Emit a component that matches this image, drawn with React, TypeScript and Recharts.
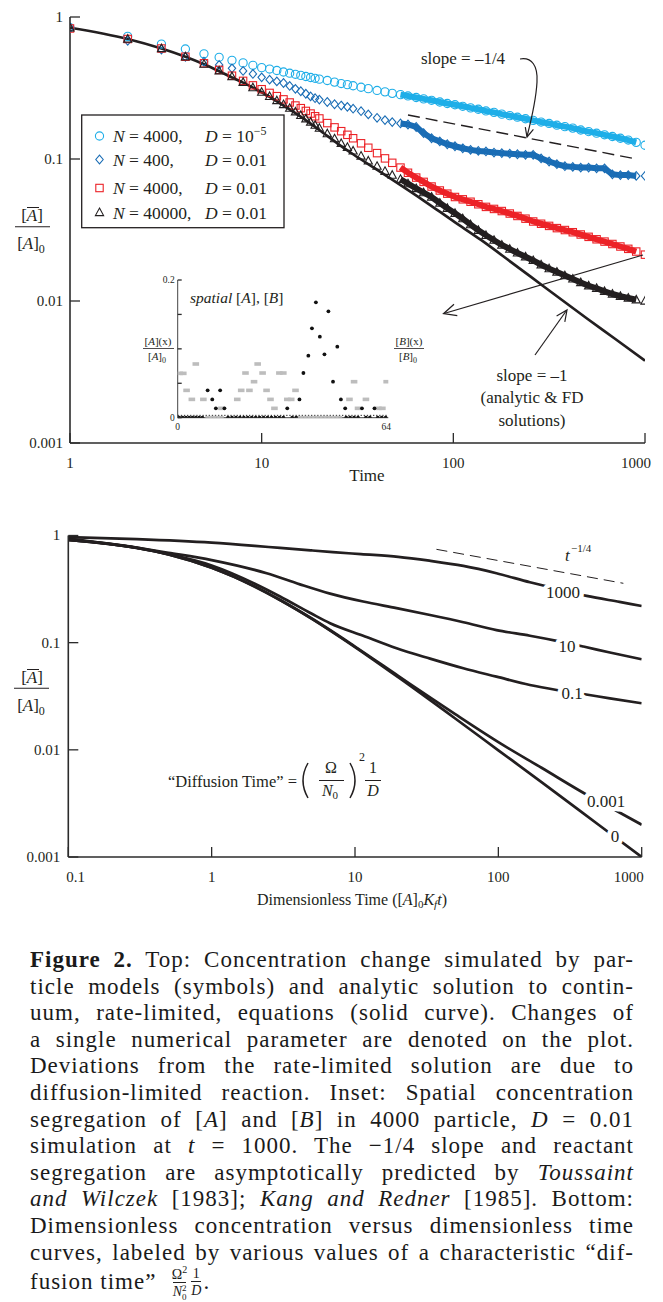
import React from "react";
import {
  ComposedChart,
  ScatterChart,
  Line,
  Scatter,
  XAxis,
  YAxis,
  ReferenceLine,
} from "recharts";

const SERIF = '"Liberation Serif", "Times New Roman", serif';
const INK = "#231f20";
const AXIS = "#2b2b2b";

// ---------- top panel: particle models vs analytic solution ----------
const SIM_T = [
  1, 2, 3, 4, 5, 6, 7, 8, 9, 10, 11, 12, 13, 14, 15, 16, 17, 18, 19, 20,
  22, 24, 26, 28, 30, 33, 36, 40, 44, 48, 53, 58, 64, 70, 77, 85, 93, 102, 112, 123,
  135, 148, 163, 179, 197, 216, 238, 261, 287, 316, 347, 382, 420, 462, 508, 559, 615, 676, 744, 818,
  900, 1000,
];
// N = 4000, D = 1e-5 (circles)
const SIM_N4000_D1E5 = [
  0.84, 0.73, 0.645, 0.595, 0.55, 0.52, 0.495, 0.475, 0.457, 0.44,
  0.43, 0.42, 0.41, 0.402, 0.395, 0.388, 0.381, 0.375, 0.37, 0.365,
  0.357, 0.348, 0.34, 0.334, 0.328, 0.32, 0.313, 0.304, 0.297, 0.29,
  0.284, 0.278, 0.271, 0.265, 0.259, 0.252, 0.246, 0.241, 0.235, 0.229,
  0.224, 0.218, 0.213, 0.207, 0.202, 0.197, 0.192, 0.187, 0.182, 0.178,
  0.173, 0.169, 0.165, 0.16, 0.156, 0.152, 0.148, 0.144, 0.14, 0.136,
  0.131, 0.125,
];
// N = 400, D = 0.01 (diamonds)
const SIM_N400_D001 = [
  0.84, 0.68, 0.59, 0.525, 0.484, 0.46, 0.435, 0.417, 0.397, 0.376,
  0.362, 0.352, 0.343, 0.327, 0.312, 0.3, 0.288, 0.276, 0.268, 0.262,
  0.252, 0.243, 0.238, 0.233, 0.226, 0.217, 0.206, 0.195, 0.188, 0.182,
  0.178, 0.175, 0.168, 0.152, 0.14, 0.133, 0.127, 0.123, 0.119, 0.116,
  0.114, 0.113, 0.111, 0.11, 0.109, 0.108, 0.107, 0.107, 0.101, 0.096,
  0.092, 0.089, 0.088, 0.087, 0.087, 0.086, 0.086, 0.078, 0.077, 0.077,
  0.076, 0.076,
];
// N = 4000, D = 0.01 (squares)
const SIM_N4000_D001 = [
  0.83, 0.7, 0.6, 0.525, 0.472, 0.424, 0.386, 0.355, 0.33, 0.31,
  0.292, 0.277, 0.263, 0.25, 0.238, 0.228, 0.218, 0.209, 0.2, 0.193,
  0.179, 0.167, 0.157, 0.148, 0.14, 0.129, 0.12, 0.11, 0.101, 0.094,
  0.087, 0.08, 0.074, 0.069, 0.064, 0.06, 0.057, 0.054, 0.052, 0.05,
  0.048, 0.046, 0.0445, 0.043, 0.0413, 0.0397, 0.038, 0.0363, 0.035, 0.0338,
  0.0326, 0.0316, 0.0305, 0.0294, 0.0283, 0.0272, 0.0262, 0.0252, 0.0242, 0.0233,
  0.0223, 0.0212,
];
// N = 40000, D = 0.01 (triangles)
const SIM_N40000_D001 = [
  0.84, 0.7, 0.6, 0.525, 0.465, 0.418, 0.38, 0.347, 0.318, 0.296,
  0.276, 0.258, 0.242, 0.228, 0.215, 0.203, 0.192, 0.182, 0.173, 0.165,
  0.151, 0.139, 0.129, 0.121, 0.114, 0.105, 0.097, 0.089, 0.082, 0.077,
  0.072, 0.067, 0.062, 0.058, 0.054, 0.049, 0.045, 0.0415, 0.038, 0.0345,
  0.0315, 0.029, 0.0268, 0.0248, 0.0232, 0.0218, 0.0205, 0.0193, 0.018, 0.0169,
  0.016, 0.0151, 0.0143, 0.0135, 0.0128, 0.0123, 0.0117, 0.0112, 0.0108, 0.0105,
  0.0102, 0.01,
];
const ANALYTIC_T = [1, 2, 3, 4, 5, 6, 7, 8, 10, 12, 15, 20, 25, 30, 40, 50, 70, 100, 140, 200, 300, 500, 700, 1000];
const ANALYTIC_A = [
  0.84, 0.7, 0.6, 0.525, 0.465, 0.415, 0.375, 0.345, 0.295, 0.255, 0.21, 0.16,
  0.128, 0.108, 0.084, 0.069, 0.051, 0.0365, 0.0268, 0.0188, 0.0125, 0.0075, 0.0054, 0.0038,
];
const TOP_X_TICKS = [1, 10, 100, 1000];
const TOP_Y_TICKS = [0.001, 0.01, 0.1, 1];
const QUARTER_SLOPE_T = [58, 870];
const QUARTER_SLOPE_A = [0.204, 0.101];

// ---------- inset: spatial [A], [B] ----------
const INSET_A_X = [9.1, 10.5, 11.6, 12.9, 14.2, 33.3, 37, 38.2, 39.7, 40.8, 42, 43.2, 44.6, 45.8, 47.2, 48.5, 49.6, 50.9, 56, 59.8];
const INSET_A_Y = [0.0397, 0.0266, 0.0136, 0.0397, 0.0136, 0.0136, 0.0266, 0.0649, 0.0901, 0.1298, 0.1676, 0.1177, 0.092, 0.1545, 0.0523, 0.1031, 0.0266, 0.0136, 0.0136, 0.0136];
const INSET_A_ZERO_X = [0.5, 1.5, 2.5, 3.5, 4.5, 5.5, 6.5, 7.5, 15.3, 16.5, 17.7, 18.9, 20.1, 21.3, 22.5, 23.7, 24.9, 26.1, 27.3, 28.5, 29.7, 30.9, 32.1, 34.8, 36, 51.2, 52.4, 53.6, 54.8, 57.2, 58.4, 60.8, 62, 63.2];
const INSET_B_X = [0.6, 1.7, 2.7, 4.3, 5.5, 7.8, 13.3, 18.1, 19.3, 20.6, 21.8, 23.2, 24.3, 25.8, 27, 28.2, 29.4, 30.9, 32.1, 33.3, 34.5, 35.8, 52.2, 53.6, 54.8, 57.2, 61, 62.2, 63.5];
const INSET_B_Y = [0.0644, 0.0644, 0.0397, 0.0266, 0.078, 0.0266, 0.0136, 0.0266, 0.0397, 0.0649, 0.0397, 0.0523, 0.078, 0.0649, 0.0397, 0.0266, 0.0136, 0.0649, 0.0649, 0.0266, 0.0266, 0.0397, 0.0266, 0.0523, 0.0136, 0.0266, 0.0136, 0.0136, 0.0523];
const INSET_B_ZERO_X = [9.4, 10.6, 11.8, 13, 37, 38.2, 39.4, 40.6, 41.8, 43, 44.2, 45.4, 46.6, 47.8, 49];
const INSET_MEAN = 0.0034;

// ---------- bottom panel: dimensionless curves ----------
const DT1000_T = [0.1, 0.3, 1, 2, 3, 5, 7, 11, 20, 33, 57, 97, 166, 250, 413, 700, 1000];
const DT1000_A = [0.965, 0.925, 0.857, 0.8, 0.765, 0.725, 0.7, 0.67, 0.633, 0.582, 0.52, 0.444, 0.366, 0.32, 0.273, 0.24, 0.22];
const DT10_T = [0.1, 0.3, 0.5, 1, 2.42, 4.13, 6.7, 11.4, 19.5, 33.4, 57, 97, 166, 255, 392, 600, 1000];
const DT10_A = [0.935, 0.77, 0.69, 0.59, 0.444, 0.35, 0.287, 0.242, 0.21, 0.181, 0.155, 0.131, 0.116, 0.104, 0.092, 0.081, 0.07];
const DT01_T = [0.1, 0.3, 0.5, 1, 2, 3, 5, 6.7, 11.4, 19.5, 33.4, 57, 97, 166, 255, 400, 600, 1000];
const DT01_A = [0.91, 0.765, 0.67, 0.525, 0.355, 0.27, 0.186, 0.152, 0.116, 0.0887, 0.071, 0.0577, 0.0482, 0.0403, 0.0362, 0.033, 0.0302, 0.0272];
const DT0001_T = [0.1, 0.3, 0.5, 1, 2, 3, 5, 10, 20, 35, 50, 100, 200, 436, 700, 1000];
const DT0001_A = [0.91, 0.765, 0.665, 0.5, 0.335, 0.25, 0.168, 0.092, 0.049, 0.0295, 0.0215, 0.0118, 0.0068, 0.00366, 0.0026, 0.002];
const DT0_T = [0.1, 0.3, 0.5, 1, 2, 3, 5, 10, 20, 50, 100, 200, 500, 1000];
const DT0_A = [0.91, 0.77, 0.667, 0.5, 0.333, 0.25, 0.167, 0.091, 0.0476, 0.0196, 0.0099, 0.005, 0.002, 0.001];
const BOT_X_TICKS = [0.1, 1, 10, 100, 1000];
const BOT_Y_TICKS = [0.001, 0.01, 0.1, 1];
const QUARTER_GUIDE_T = [37, 745];
const QUARTER_GUIDE_A = [0.743, 0.358];

const rows = (ts: number[], vs: number[]) => ts.map((t, i) => ({ t, v: vs[i] }));

const SERIES = [
  { id: "c", kind: "circle", color: "#1eaee8", values: SIM_N4000_D1E5, n: "4000,", d: "10", sup: "\u22125", ly: 136 },
  { id: "d", kind: "diamond", color: "#1a6db5", values: SIM_N400_D001, n: "400,", d: "0.01", sup: "", ly: 159.5 },
  { id: "s", kind: "square", color: "#ec2227", values: SIM_N4000_D001, n: "4000,", d: "0.01", sup: "", ly: 188 },
  { id: "t", kind: "triangle", color: INK, values: SIM_N40000_D001, n: "40000,", d: "0.01", sup: "", ly: 212.5 },
];

const BOT_CURVES = [
  { label: "1000", t: DT1000_T, a: DT1000_A, lx: 563, ly: 592 },
  { label: "10", t: DT10_T, a: DT10_A, lx: 567, ly: 646 },
  { label: "0.1", t: DT01_T, a: DT01_A, lx: 572, ly: 693 },
  { label: "0.001", t: DT0001_T, a: DT0001_A, lx: 606, ly: 801 },
  { label: "0", t: DT0_T, a: DT0_A, lx: 615, ly: 836 },
];

function Marker({ kind, color, cx, cy }: { kind: string; color: string; cx?: number; cy?: number }) {
  if (cx == null || cy == null) return null;
  const common = { fill: "none", stroke: color, strokeWidth: 1.1 };
  if (kind === "circle") return <circle cx={cx} cy={cy} r={4.1} {...common} />;
  if (kind === "diamond")
    return <path d={`M${cx},${cy - 4.3}L${cx + 3.7},${cy}L${cx},${cy + 4.3}L${cx - 3.7},${cy}Z`} {...common} />;
  if (kind === "square") return <rect x={cx - 3.7} y={cy - 3.7} width={7.4} height={7.4} {...common} />;
  return <path d={`M${cx},${cy - 4.4}L${cx + 4.1},${cy + 3.1}L${cx - 4.1},${cy + 3.1}Z`} {...common} />;
}

const lbl = { fontFamily: SERIF, fill: INK, stroke: "none" } as const;

// inward tick marks; labels drawn by the same function
function xTick(len: number, opts: { labels?: boolean; fs?: number; off?: number; place?: (v: number) => [number, string] } = {}) {
  return (p: any) => {
    const { x, y, payload } = p;
    const v = payload.value;
    const [dx, anchor] = opts.place ? opts.place(v) : [0, "middle"];
    return (
      <g>
        <line x1={x} x2={x} y1={y} y2={y - len} stroke={AXIS} strokeWidth={1.3} />
        {opts.labels && (
          <text x={x + dx} y={y + (opts.off ?? 25)} textAnchor={anchor} fontSize={opts.fs ?? 15} {...lbl}>
            {v}
          </text>
        )}
      </g>
    );
  };
}
function yTick(len: number, opts: { labels?: boolean | ((v: number) => boolean); fs?: number; off?: number; right?: boolean } = {}) {
  return (p: any) => {
    const { x, y, payload } = p;
    const v = payload.value;
    const dir = opts.right ? -1 : 1;
    const show = typeof opts.labels === "function" ? opts.labels(v) : opts.labels;
    return (
      <g>
        <line x1={x} x2={x + dir * len} y1={y} y2={y} stroke={AXIS} strokeWidth={1.3} />
        {show && (
          <text
            x={opts.right ? x + (opts.off ?? 7) : x - (opts.off ?? 7)}
            y={y + (opts.fs ?? 15) * 0.33}
            textAnchor={opts.right ? "start" : "end"}
            fontSize={opts.fs ?? 15}
            {...lbl}
          >
            {v}
          </text>
        )}
      </g>
    );
  };
}

const axisLine = { stroke: AXIS, strokeWidth: 1.6 };

function TopPanel() {
  const analytic = rows(ANALYTIC_T, ANALYTIC_A);
  return (
    <ComposedChart width={663} height={490} margin={{ top: 17, right: 18, bottom: 17, left: 0 }}>
      <XAxis xAxisId="b" dataKey="t" type="number" scale="log" domain={[1, 1000]} allowDataOverflow ticks={TOP_X_TICKS}
        height={30} tickSize={0} tickMargin={0} tickLine={false} axisLine={axisLine}
        tick={xTick(10, { labels: true, place: (v) => (v === 1000 ? [6, "end"] : [0, "middle"]) })} />
      <XAxis xAxisId="top" orientation="top" dataKey="t" type="number" scale="log" domain={[1, 1000]} allowDataOverflow
        ticks={TOP_X_TICKS} height={0} tickSize={0} tickMargin={0} tickLine={false} axisLine={axisLine}
        tick={(p: any) => <line x1={p.x} x2={p.x} y1={p.y} y2={p.y + 10} stroke={AXIS} strokeWidth={1.3} />} />
      <YAxis yAxisId="l" dataKey="v" type="number" scale="log" domain={[0.001, 1]} allowDataOverflow ticks={TOP_Y_TICKS}
        width={70} tickSize={0} tickMargin={0} tickLine={false} axisLine={axisLine} tick={yTick(10, { labels: true })} />
      <YAxis yAxisId="r" orientation="right" dataKey="v" type="number" scale="log" domain={[0.001, 1]} allowDataOverflow
        ticks={TOP_Y_TICKS} width={0} tickSize={0} tickMargin={0} tickLine={false} axisLine={axisLine}
        tick={yTick(10, { right: true })} />
      <ReferenceLine xAxisId="b" yAxisId="l"
        segment={[{ x: QUARTER_SLOPE_T[0], y: QUARTER_SLOPE_A[0] }, { x: QUARTER_SLOPE_T[1], y: QUARTER_SLOPE_A[1] }]}
        stroke={INK} strokeWidth={1.4} strokeDasharray="12 6" />
      <Line xAxisId="b" yAxisId="l" data={analytic} dataKey="v" type="monotone" stroke={INK} strokeWidth={2.7}
        dot={false} isAnimationActive={false} />
      {SERIES.map((s) => {
        const data = rows(SIM_T, s.values);
        return [
          <Line key={s.id + "-band"} xAxisId="b" yAxisId="l" data={data.filter((r) => r.t >= 53 && r.t < 1000)}
            dataKey="v" type="linear" stroke={s.color} strokeWidth={6} dot={false} isAnimationActive={false} />,
          <Scatter key={s.id} xAxisId="b" yAxisId="l" data={data} dataKey="v" isAnimationActive={false}
            shape={(p: any) => <Marker kind={s.kind} color={s.color} cx={p.cx} cy={p.cy} />} />,
        ];
      })}
    </ComposedChart>
  );
}

function Inset() {
  const a = INSET_A_X.map((x, i) => ({ x, y: INSET_A_Y[i] }));
  const a0 = INSET_A_ZERO_X.map((x) => ({ x, y: 0 }));
  const b = INSET_B_X.map((x, i) => ({ x, y: INSET_B_Y[i] }));
  const b0 = INSET_B_ZERO_X.map((x) => ({ x, y: 0 }));
  const ax = { stroke: "#444", strokeWidth: 1 };
  const bar = (p: any) => <rect x={p.cx - 3.3} y={p.cy - 1.8} width={6.6} height={3.6} fill="#bdbdbd" />;
  const dot = (p: any) => <circle cx={p.cx} cy={p.cy} r={1.9} fill="#111" />;
  const endLabels = (v: number) => v === 0 || v === 0.2;
  return (
    <ScatterChart width={300} height={180} margin={{ top: 15, right: 41.7, bottom: 0, left: 0 }}>
      <XAxis xAxisId="b" dataKey="x" type="number" domain={[0, 64]} allowDataOverflow ticks={[0, 64]} height={27.3}
        tickSize={0} tickMargin={0} tickLine={false} axisLine={ax}
        tick={(p: any) => (
          <text x={p.x + (p.payload.value === 64 ? -2 : 0)} y={p.y + 12} textAnchor="middle" fontSize={9.5} {...lbl}>
            {p.payload.value}
          </text>
        )} />
      <XAxis xAxisId="t" orientation="top" dataKey="x" type="number" domain={[0, 64]} allowDataOverflow
        ticks={[10, 20, 30, 40, 50, 60]} height={0} tickSize={0} tickMargin={0} tickLine={false} axisLine={ax}
        tick={(p: any) => <line x1={p.x} x2={p.x} y1={p.y} y2={p.y + 3.5} stroke="#444" />} />
      <YAxis yAxisId="l" dataKey="y" type="number" domain={[0, 0.2]} allowDataOverflow ticks={[0, 0.05, 0.1, 0.15, 0.2]}
        width={47.7} tickSize={0} tickMargin={0} tickLine={false} axisLine={ax}
        tick={yTick(4, { labels: endLabels, fs: 9.5, off: 3 })} />
      <YAxis yAxisId="r" orientation="right" dataKey="y" type="number" domain={[0, 0.2]} allowDataOverflow
        ticks={[0, 0.05, 0.1, 0.15, 0.2]} width={0} tickSize={0} tickMargin={0} tickLine={false} axisLine={ax}
        tick={yTick(4, { labels: endLabels, fs: 9.5, off: 5, right: true })} />
      <ReferenceLine xAxisId="b" yAxisId="l" y={INSET_MEAN} stroke="#222" strokeWidth={1} strokeDasharray="1.3 1.8" />
      <Scatter xAxisId="b" yAxisId="l" data={b0} dataKey="y" shape={bar} isAnimationActive={false} />
      <Scatter xAxisId="b" yAxisId="l" data={b} dataKey="y" shape={bar} isAnimationActive={false} />
      <Scatter xAxisId="b" yAxisId="l" data={a0} dataKey="y" shape={dot} isAnimationActive={false} />
      <Scatter xAxisId="b" yAxisId="l" data={a} dataKey="y" shape={dot} isAnimationActive={false} />
    </ScatterChart>
  );
}

function BottomPanel() {
  return (
    <ComposedChart width={663} height={420} margin={{ top: 35.5, right: 21.3, bottom: 0, left: 0 }}>
      <XAxis xAxisId="b" dataKey="t" type="number" scale="log" domain={[0.1, 1000]} allowDataOverflow ticks={BOT_X_TICKS}
        height={63} tickSize={0} tickMargin={0} tickLine={false} axisLine={axisLine}
        tick={xTick(10, {
          labels: true,
          place: (v) => (v === 1000 ? [2, "end"] : v === 0.1 ? [-2, "start"] : [0, "middle"]),
        })} />
      <XAxis xAxisId="top" orientation="top" dataKey="t" type="number" scale="log" domain={[0.1, 1000]} allowDataOverflow
        ticks={BOT_X_TICKS} height={0} tickSize={0} tickMargin={0} tickLine={false} axisLine={axisLine}
        tick={(p: any) => <line x1={p.x} x2={p.x} y1={p.y} y2={p.y + 10} stroke={AXIS} strokeWidth={1.3} />} />
      <YAxis yAxisId="l" dataKey="v" type="number" scale="log" domain={[0.001, 1]} allowDataOverflow ticks={BOT_Y_TICKS}
        width={68.3} tickSize={0} tickMargin={0} tickLine={false} axisLine={axisLine}
        tick={yTick(10, { labels: true, off: 8 })} />
      <YAxis yAxisId="r" orientation="right" dataKey="v" type="number" scale="log" domain={[0.001, 1]} allowDataOverflow
        ticks={BOT_Y_TICKS} width={0} tickSize={0} tickMargin={0} tickLine={false} axisLine={axisLine}
        tick={yTick(10, { right: true })} />
      <ReferenceLine xAxisId="b" yAxisId="l"
        segment={[{ x: QUARTER_GUIDE_T[0], y: QUARTER_GUIDE_A[0] }, { x: QUARTER_GUIDE_T[1], y: QUARTER_GUIDE_A[1] }]}
        stroke={INK} strokeWidth={1} strokeDasharray="11 6" />
      {BOT_CURVES.map((c) => (
        <Line key={c.label} xAxisId="b" yAxisId="l" data={rows(c.t, c.a)} dataKey="v" type="monotone"
          stroke={INK} strokeWidth={2.7} dot={false} isAnimationActive={false} />
      ))}
    </ComposedChart>
  );
}

const halo = { stroke: "#fff", strokeWidth: 9, paintOrder: "stroke", strokeLinejoin: "round" } as any;

function Annotations() {
  const ink = { stroke: INK, strokeWidth: 1.2, fill: "none" };
  return (
    <svg width={663} height={940} style={{ position: "absolute", left: 0, top: 0, pointerEvents: "none" }}
      fontFamily={SERIF} fill={INK}>
      {/* legend */}
      <rect x={81.7} y={115} width={202.3} height={112.7} fill="#fff" stroke={INK} strokeWidth={1.3} />
      {SERIES.map((s) => (
        <g key={s.id}>
          <Marker kind={s.kind} color={s.color} cx={99.5} cy={s.ly} />
          <text x={113} y={s.ly + 6} fontSize={17.5}>
            <tspan fontStyle="italic">N</tspan> = {s.n}
          </text>
          <text x={205} y={s.ly + 6} fontSize={17.5}>
            <tspan fontStyle="italic">D</tspan> = {s.d}
            {s.sup && <tspan dy={-7} fontSize={12}>{s.sup}</tspan>}
          </text>
        </g>
      ))}

      {/* top y label */}
      <text x={32} y={221} fontSize={17} textAnchor="middle">[<tspan fontStyle="italic">A</tspan>]</text>
      <line x1={27} x2={39} y1={207.5} y2={207.5} stroke={INK} strokeWidth={1} />
      <line x1={15} x2={50} y1={226.7} y2={226.7} stroke={INK} strokeWidth={1.1} />
      <text x={31} y={249} fontSize={17} textAnchor="middle">
        [<tspan fontStyle="italic">A</tspan>]<tspan dy={4} fontSize={12}>0</tspan>
      </text>
      <text x={367} y={481} fontSize={17} textAnchor="middle">Time</text>

      {/* top annotations */}
      <text x={463} y={64} fontSize={17} textAnchor="middle">slope = {"\u2013"}1/4</text>
      <path d="M520,59 C532,57 538,66 537,82 C536,101 531,121 527,136.5" {...ink} />
      <path d="M525.3,127.1 L527,137 L533.4,129.3" {...ink} />
      <line x1={643} y1={255} x2={444} y2={313.5} {...ink} />
      <path d="M454,304.2 L443.5,313.7 L457.3,315.6" {...ink} />
      <line x1={535} y1={355} x2={566.5} y2={310.5} {...ink} />
      <path d="M556.6,315.9 L567,310 L564.8,321.8" {...ink} />
      <text x={532} y={381} fontSize={17} textAnchor="middle">slope = {"\u2013"}1</text>
      <text x={532} y={403} fontSize={17} textAnchor="middle">(analytic &amp; FD</text>
      <text x={532} y={426} fontSize={17} textAnchor="middle">solutions)</text>

      {/* inset texts */}
      <text x={190} y={303} fontSize={15.5}>
        <tspan fontStyle="italic">spatial</tspan> [<tspan fontStyle="italic">A</tspan>], [<tspan fontStyle="italic">B</tspan>]
      </text>
      <text x={158} y={345} fontSize={11} textAnchor="middle">[<tspan fontStyle="italic">A</tspan>](x)</text>
      <line x1={143} x2={174} y1={348.5} y2={348.5} stroke={INK} strokeWidth={0.8} />
      <text x={157} y={360} fontSize={11} textAnchor="middle">
        [<tspan fontStyle="italic">A</tspan>]<tspan dy={3} fontSize={8}>0</tspan>
      </text>
      <text x={409} y={345} fontSize={11} textAnchor="middle">[<tspan fontStyle="italic">B</tspan>](x)</text>
      <line x1={394} x2={424} y1={348.5} y2={348.5} stroke={INK} strokeWidth={0.8} />
      <text x={408} y={360} fontSize={11} textAnchor="middle">
        [<tspan fontStyle="italic">B</tspan>]<tspan dy={3} fontSize={8}>0</tspan>
      </text>

      {/* bottom panel labels */}
      {BOT_CURVES.map((c) => (
        <text key={c.label} x={c.lx} y={c.ly + 6} fontSize={17} textAnchor="middle" {...halo}>{c.label}</text>
      ))}
      <text x={565} y={561} fontSize={17} fontStyle="italic">t</text>
      <text x={571} y={552} fontSize={11}>{"\u2212"}1/4</text>

      <text x={32} y={683} fontSize={17} textAnchor="middle">[<tspan fontStyle="italic">A</tspan>]</text>
      <line x1={27} x2={39} y1={669.5} y2={669.5} stroke={INK} strokeWidth={1} />
      <line x1={14} x2={49} y1={688.3} y2={688.3} stroke={INK} strokeWidth={1.1} />
      <text x={31} y={711} fontSize={17} textAnchor="middle">
        [<tspan fontStyle="italic">A</tspan>]<tspan dy={4} fontSize={12}>0</tspan>
      </text>

      <text x={297} y={787} fontSize={16.5} textAnchor="end">{"\u201C"}Diffusion Time{"\u201D"} =</text>
      <path d="M308,763 Q298,780.5 308,798" stroke={INK} strokeWidth={1.5} fill="none" />
      <text x={331} y={773} fontSize={16} textAnchor="middle">{"\u03A9"}</text>
      <line x1={319} x2={344} y1={780.5} y2={780.5} stroke={INK} strokeWidth={1} />
      <text x={330} y={796} fontSize={16} textAnchor="middle">
        <tspan fontStyle="italic">N</tspan><tspan dy={3} fontSize={11}>0</tspan>
      </text>
      <path d="M350,763 Q360,780.5 350,798" stroke={INK} strokeWidth={1.5} fill="none" />
      <text x={359} y={761} fontSize={12}>2</text>
      <text x={373} y={773} fontSize={16} textAnchor="middle">1</text>
      <line x1={365} x2={381} y1={780.5} y2={780.5} stroke={INK} strokeWidth={1} />
      <text x={373} y={796} fontSize={16} textAnchor="middle" fontStyle="italic">D</text>

      <text x={352} y={905} fontSize={16} textAnchor="middle">
        Dimensionless Time ([<tspan fontStyle="italic">A</tspan>]<tspan dy={3} fontSize={11}>0</tspan>
        <tspan dy={-3} fontStyle="italic">K</tspan><tspan dy={3} fontSize={11} fontStyle="italic">f</tspan>
        <tspan dy={-3} fontStyle="italic">t</tspan>)
      </text>
    </svg>
  );
}

const CAPTION_LINES: React.ReactNode[] = [
  <><b>Figure 2.</b> Top: Concentration change simulated by par-</>,
  <>ticle models (symbols) and analytic solution to contin-</>,
  <>uum, rate-limited, equations (solid curve). Changes of</>,
  <>a single numerical parameter are denoted on the plot.</>,
  <>Deviations from the rate-limited solution are due to</>,
  <>diffusion-limited reaction. Inset: Spatial concentration</>,
  <>segregation of [<i>A</i>] and [<i>B</i>] in 4000 particle, <i>D</i> = 0.01</>,
  <>simulation at <i>t</i> = 1000. The {"\u2212"}1/4 slope and reactant</>,
  <>segregation are asymptotically predicted by <i>Toussaint</i></>,
  <><i>and Wilczek</i> [1983]; <i>Kang and Redner</i> [1985]. Bottom:</>,
  <>Dimensionless concentration versus dimensionless time</>,
  <>curves, labeled by various values of a characteristic {"\u201C"}dif-</>,
];

function Caption() {
  const frac = (top: React.ReactNode, bot: React.ReactNode) => (
    <span style={{ display: "inline-flex", flexDirection: "column", alignItems: "center", fontSize: 14, lineHeight: "15px", margin: "0 2px", letterSpacing: 0 }}>
      <span>{top}</span>
      <span style={{ borderTop: "1px solid #222", paddingTop: 1 }}>{bot}</span>
    </span>
  );
  return (
    <div style={{ position: "absolute", left: 30, top: 947, width: 604, fontFamily: SERIF, fontSize: 23, letterSpacing: 1, color: "#1a1a1a" }}>
      {CAPTION_LINES.map((ln, i) => (
        <div key={i} style={{ height: 26.6, lineHeight: "26.6px", whiteSpace: "nowrap", textAlign: "justify", textAlignLast: "justify" }}>
          {ln}
        </div>
      ))}
      <div style={{ display: "flex", alignItems: "center", height: 36, marginTop: -2 }}>
        <span>fusion time{"\u201D"}&nbsp;&nbsp;</span>
        {frac(
          <>{"\u03A9"}<sup style={{ fontSize: 10 }}>2</sup></>,
          <><i>N</i><span style={{ display: "inline-flex", flexDirection: "column", fontSize: 9, lineHeight: "9px", verticalAlign: "middle" }}><span>2</span><span>0</span></span></>
        )}
        {frac(<>1</>, <i>D</i>)}
        <span>.</span>
      </div>
    </div>
  );
}

export default function App() {
  return (
    <div style={{ position: "relative", width: 663, height: 1302, background: "#fff", overflow: "hidden" }}>
      <style>{"body{margin:0;background:#fff}"}</style>
      <div style={{ position: "absolute", left: 0, top: 0 }}>
        <TopPanel />
      </div>
      <div style={{ position: "absolute", left: 130, top: 265 }}>
        <Inset />
      </div>
      <div style={{ position: "absolute", left: 0, top: 500 }}>
        <BottomPanel />
      </div>
      <Annotations />
      <Caption />
    </div>
  );
}
